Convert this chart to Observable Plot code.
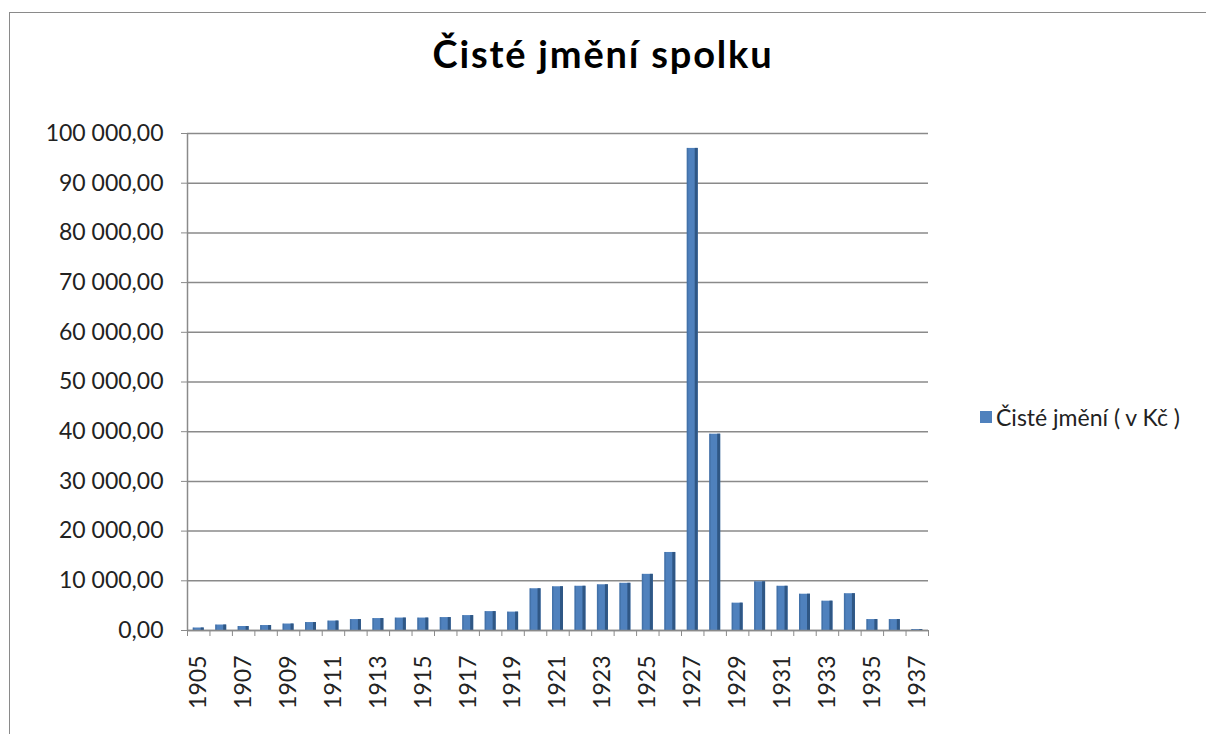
<!DOCTYPE html>
<html>
<head>
<meta charset="utf-8">
<script src="https://cdn.jsdelivr.net/npm/d3@7"></script>
<script src="https://cdn.jsdelivr.net/npm/@observablehq/plot@0.6"></script>
<style>
  html, body { margin: 0; padding: 0; background: #fff; }
  #wrap { position: relative; width: 1206px; height: 734px; overflow: hidden; font-family: Lato, "Open Sans", sans-serif; }
  #border { position: absolute; left: 9px; top: 12px; width: 1220px; height: 740px; border: 1.5px solid #8a8a8a; box-sizing: border-box; }
  #title { position: absolute; left: 0; width: 1206px; top: 30px; text-align: center; font-size: 38px; letter-spacing: 1.8px; font-weight: bold; color: #000; }
  #legend { position: absolute; left: 980px; top: 403px; font-size: 23px; color: #222; display: flex; align-items: center; }
  #legend span.sw { display: inline-block; width: 12px; height: 12px; background: #4f81bd; margin-right: 4px; }
  #chart { position: absolute; left: 0; top: 0; }
</style>
</head>
<body>
<div id="wrap">
  <div id="border"></div>
  <div id="chart"></div>
  <div id="title">Čisté jmění spolku</div>
  <div id="legend"><span class="sw"></span><span>Čisté jmění ( v Kč )</span></div>
</div>
<script>
const years = [1905,1906,1907,1908,1909,1910,1911,1912,1913,1914,1915,1916,1917,1918,1919,1920,1921,1922,1923,1924,1925,1926,1927,1928,1929,1930,1931,1932,1933,1934,1935,1936,1937];
const values = [500,1100,800,1000,1300,1600,1900,2200,2400,2500,2500,2600,3000,3800,3700,8400,8800,8900,9200,9500,11300,15700,97000,39500,5500,9800,8900,7300,5900,7400,2200,2200,200];
const yTicks = [0,10000,20000,30000,40000,50000,60000,70000,80000,90000,100000];
const labelYears = years.filter((y, i) => i % 2 === 0);

const data = years.map((year, i) => ({year, value: values[i]}));
const boundaries = years.map(y => y - 0.5).concat([years[years.length - 1] + 0.5]);

const fmt = v => d3.format(",.2f")(v).replace(/,/g, " ").replace(".", ",");

const W = 1206, H = 734;
const mL = 187, mR = 278, mT = 133, mB = 104;
const band = (W - mL - mR) / years.length;
const barW = 11;
const inset = (band - barW) / 2;

const chart = Plot.plot({
  width: W,
  height: H,
  marginLeft: mL,
  marginRight: mR,
  marginTop: mT,
  marginBottom: mB,
  style: {fontFamily: "Lato, 'Open Sans', sans-serif", fontSize: "23px", color: "#222", background: "transparent"},
  x: {domain: [years[0] - 0.5, years[years.length - 1] + 0.5], label: null},
  y: {domain: [0, 100000], label: null},
  marks: [
    Plot.gridY(yTicks, {stroke: "#8a8a8a", strokeOpacity: 1, strokeWidth: 1.5}),
    Plot.rectY(data, {x1: d => d.year - 0.5, x2: d => d.year + 0.5, y: "value", fill: "#4f81bd", insetLeft: inset, insetRight: inset}),
    Plot.rectY(data, {x1: d => d.year - 0.5, x2: d => d.year + 0.5, y: "value", fill: "#2f5785", insetLeft: band - inset - 3, insetRight: inset}),
    Plot.rectY(data, {x1: d => d.year - 0.5, x2: d => d.year + 0.5, y: "value", fill: "#2f5785", fillOpacity: 0.35, insetLeft: inset, insetRight: band - inset - 1.5}),
    Plot.axisY({ticks: yTicks, tickFormat: fmt, tickSize: 6, tickPadding: 18, stroke: "#8a8a8a", label: null, fontSize: 23, fill: "#222"}),
    Plot.axisX({ticks: boundaries, tickFormat: () => "", tickSize: 6, stroke: "#8a8a8a", label: null}),
    Plot.axisX({ticks: labelYears, tickFormat: d => String(d), tickSize: 0, tickPadding: 25, tickRotate: -90, label: null, fontSize: 23, fill: "#222"}),
    Plot.ruleY([0], {stroke: "#8a8a8a", strokeWidth: 1.5}),
    Plot.ruleX([years[0] - 0.5], {stroke: "#8a8a8a", strokeWidth: 1.5})
  ]
});
document.getElementById("chart").appendChild(chart);
</script>
</body>
</html>
